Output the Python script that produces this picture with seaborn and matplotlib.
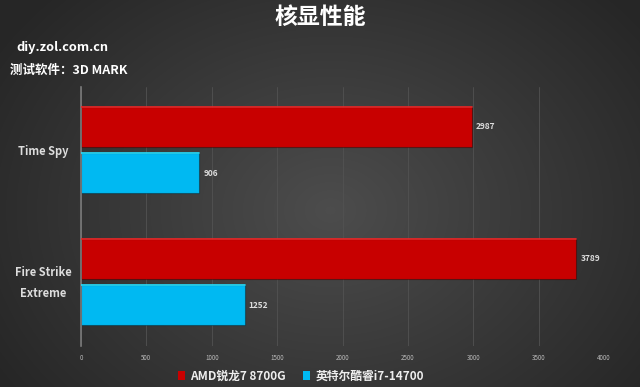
import numpy as np
import pandas as pd
import matplotlib
matplotlib.use("Agg")
import matplotlib.pyplot as plt
import matplotlib.transforms as mtransforms
import seaborn as sns
from matplotlib.patches import Patch

categories = ["Time Spy", "Fire Strike\nExtreme"]
series = ["AMD锐龙7 8700G", "英特尔酷睿i7-14700"]
amd_scores = [2987, 3789]
intel_scores = [906, 1252]
xticks = [0, 500, 1000, 1500, 2000, 2500, 3000, 3500, 4000]
colors = ["#C80000", "#00B9F2"]

df = pd.DataFrame({
    "cat": categories * 2,
    "series": [series[0]] * 2 + [series[1]] * 2,
    "score": amd_scores + intel_scores,
})

sns.set_theme(style="white")
plt.rcParams['font.family'] = ['Noto Sans CJK SC', 'DejaVu Sans']

W, H = 640, 387
fig = plt.figure(figsize=(W / 100, H / 100), dpi=100)

# background radial gradient
bg = fig.add_axes([0, 0, 1, 1], zorder=-10)
yy, xx = np.mgrid[0:H, 0:W]
d = np.sqrt(((xx - 330) / 420.0) ** 2 + ((yy - 210) / 330.0) ** 2)
val = np.clip(0.30 - 0.16 * d, 0.15, 0.30)
bg.imshow(np.dstack([val, val, val]), aspect="auto", extent=[0, 1, 0, 1])
bg.axis("off")

left, right, top, bottom = 81, 604, 87, 346
ax = fig.add_axes([left / W, 1 - bottom / H, (right - left) / W, (bottom - top) / H])
ax.patch.set_alpha(0)

sns.barplot(data=df, y="cat", x="score", hue="series", palette=colors,
            orient="h", width=0.704, gap=0.14, ax=ax, legend=False,
            edgecolor="#00000055", linewidth=0.8, saturation=1)

# lighter top edge highlight
for p in ax.patches:
    x0, y0 = p.get_x(), p.get_y()
    w = p.get_width()
    fc = p.get_facecolor()
    light = tuple(min(1, c + 0.15) for c in fc[:3])
    ax.plot([x0, x0 + w], [y0, y0], color=light, lw=1.2, zorder=5)

for cont in ax.containers:
    ax.bar_label(cont, labels=[f"{int(v)}" for v in cont.datavalues], padding=3,
                 color="#DDDDDD", fontsize=6, fontweight="bold")

ax.set_xlim(0, 4000)
ax.set_ylim(1.485, -0.477)
ax.set_xticks(xticks)
ax.set_xticklabels([str(t) for t in xticks], fontsize=4.5, color="#BBBBBB")
ax.tick_params(axis="x", length=0, pad=6)
ax.xaxis.grid(True, color="#525252", lw=0.6)
ax.set_axisbelow(True)
ax.set_yticks([0, 1])
ax.set_yticklabels(categories, fontsize=8, fontweight="bold", color="#DDDDDD",
                   linespacing=1.75, ha="center")
ax.tick_params(axis="y", length=0, pad=27)
lbl = ax.get_yticklabels()[1]
lbl.set_transform(lbl.get_transform() +
                  mtransforms.ScaledTranslation(0, 4 / 100, fig.dpi_scale_trans))
ax.set_xlabel("")
ax.set_ylabel("")
for s in ["top", "right", "bottom"]:
    ax.spines[s].set_visible(False)
ax.spines["left"].set_color("#7A7A7A")
ax.spines["left"].set_linewidth(1.2)

fig.text(0.5, 1 - 17 / H, "核显性能", ha="center", va="center", color="white",
         fontsize=16.5, fontweight="bold")
fig.text(16 / W, 1 - 47 / H, "diy.zol.com.cn", ha="left", va="center",
         color="white", fontsize=9.2, fontweight="bold")
fig.text(10 / W, 1 - 70 / H, "测试软件：3D MARK", ha="left", va="center",
         color="white", fontsize=9, fontweight="bold")

# legend
handles = [Patch(facecolor=c, edgecolor="none") for c in colors]
fig.legend(handles, series, loc="center", bbox_to_anchor=(301 / W, 1 - 376 / H),
           ncol=2, frameon=False, handlelength=0.6, handleheight=0.7,
           handletextpad=0.4, columnspacing=1.5, labelcolor="#EEEEEE",
           prop={"weight": "bold", "size": 8.5})

fig.savefig("out.png", dpi=100)
